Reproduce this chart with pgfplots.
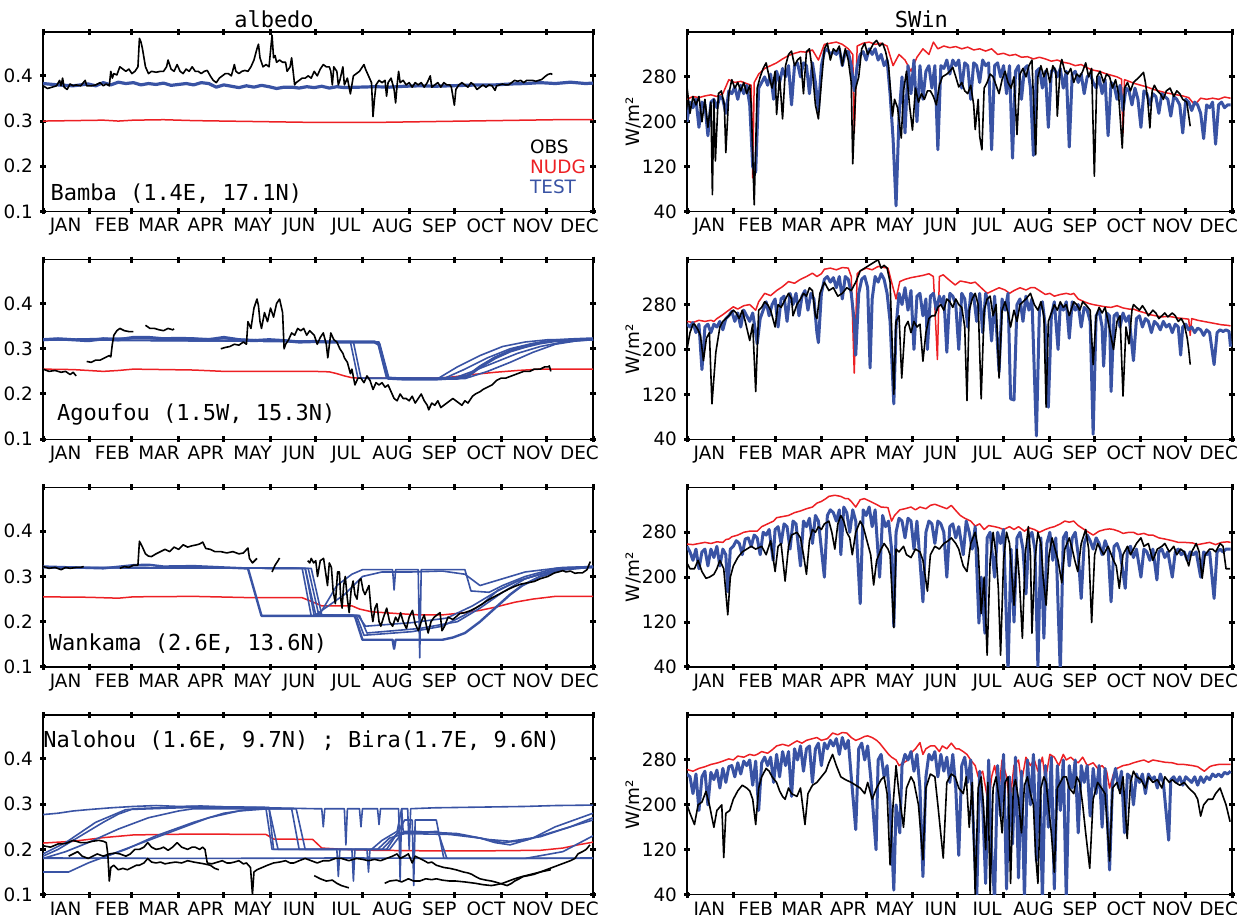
\documentclass[border=0pt]{standalone}
\usepackage{fontspec}
\setmainfont{DejaVu Sans}
\setsansfont{DejaVu Sans}
\setmonofont{DejaVu Sans Mono}
\usepackage{pgfplots}
\pgfplotsset{compat=1.18}
\usepgfplotslibrary{groupplots}
\usetikzlibrary{calc}
\definecolor{nudg}{RGB}{237,32,36}
\definecolor{test}{RGB}{57,83,164}
\pgfplotsset{
  obs/.style={black, line width=0.8pt, line join=round},
  nudgl/.style={nudg, line width=0.75pt, line join=round},
  testthick/.style={test, line width=1.6pt, line join=round},
  testthin/.style={test, line width=0.8pt, line join=round},
  testsw/.style={test, line width=1.5pt, line join=round},
  alb/.style={width=275pt, ymin=0.1, ymax=0.497, ytick={0.1,0.2,0.3,0.4}},
  sw/.style={width=272.5pt, ymin=40, ymax=360, ytick={40,120,200,280},
     ylabel={W/m²}, ylabel style={font=\fontsize{9.2}{10}\selectfont, inner sep=0pt, yshift=-3.2pt}},
}
\newcommand{\stat}{\fontsize{11}{13}\selectfont\ttfamily}
\begin{document}
\begin{tikzpicture}
\begin{groupplot}[group style={group size=2 by 4, horizontal sep=47pt, vertical sep=24.1pt},
  scale only axis, height=89.75pt, xmin=0, xmax=365,
  xtick={0,31,59,90,120,151,181,212,243,273,304,334,365},
  xticklabels={,,,,,,,,,,,,},
  extra x ticks={15,46,77,108,139,170,201,232,263,294,325,356},
  extra x tick labels={JAN,FEB,MAR,APR,MAY,JUN,JUL,AUG,SEP,OCT,NOV,DEC},
  extra x tick style={major tick length=0pt},
  tick align=center, major tick length=3pt, tick style={line width=1.5pt, black},
  axis line style={line width=0.7pt},
  ticklabel style={font=\fontsize{9.2}{10}\selectfont},
  /pgf/number format/assume math mode=true,
  clip mode=individual]
% ---------------- Row 1 left: Bamba albedo
\nextgroupplot[alb]
\addplot[nudgl] coordinates {(0,0.3)(20,0.301)(40,0.302)(50,0.3)(60,0.302)(80,0.303)(100,0.301)(120,0.3)(140,0.299)(160,0.298)(180,0.297)(200,0.297)(220,0.297)(240,0.298)(260,0.299)(280,0.3)(300,0.301)(320,0.302)(340,0.303)(365,0.303)};
\addplot[testthick] coordinates {(0,0.383)(10,0.38)(20,0.378)(30,0.382)(35,0.378)(40,0.385)(45,0.38)(50,0.386)(55,0.383)(60,0.385)(65,0.38)(70,0.383)(75,0.381)(80,0.384)(85,0.379)(90,0.381)(95,0.383)(100,0.38)(105,0.385)(110,0.383)(115,0.375)(120,0.38)(125,0.377)(130,0.374)(135,0.378)(140,0.375)(145,0.379)(150,0.376)(155,0.372)(160,0.375)(165,0.375)(170,0.373)(175,0.376)(180,0.374)(185,0.377)(190,0.373)(195,0.376)(200,0.374)(210,0.375)(220,0.376)(230,0.375)(240,0.377)(250,0.378)(260,0.377)(270,0.378)(280,0.379)(290,0.38)(300,0.38)(310,0.382)(320,0.383)(330,0.385)(340,0.383)(350,0.386)(360,0.383)(365,0.384)};
\addplot[obs] coordinates {(0,0.378)(3,0.372)(6,0.375)(9,0.378)(11,0.39)(12,0.378)(13,0.395)(14,0.375)(16,0.37)(18,0.382)(20,0.378)(22,0.38)(25,0.378)(28,0.39)(29,0.378)(32,0.378)(35,0.38)(38,0.385)(40,0.378)(42,0.382)(44,0.378)(45,0.41)(46,0.395)(47,0.405)(49,0.402)(51,0.42)(53,0.415)(55,0.41)(57,0.415)(59,0.405)(61,0.41)(63,0.42)(64,0.483)(65,0.475)(66,0.46)(67,0.44)(68,0.42)(70,0.405)(72,0.41)(75,0.408)(78,0.41)(80,0.41)(82,0.42)(83,0.435)(85,0.415)(87,0.41)(89,0.425)(91,0.41)(93,0.405)(95,0.415)(97,0.41)(99,0.42)(101,0.41)(103,0.41)(105,0.405)(107,0.41)(109,0.412)(111,0.4)(113,0.39)(115,0.385)(117,0.395)(119,0.4)(121,0.405)(123,0.405)(125,0.4)(127,0.425)(128,0.41)(130,0.405)(132,0.41)(134,0.412)(136,0.41)(138,0.42)(140,0.435)(142,0.46)(143,0.47)(144,0.44)(146,0.42)(148,0.425)(150,0.42)(152,0.49)(153,0.44)(154,0.445)(155,0.43)(157,0.435)(159,0.43)(161,0.43)(162,0.41)(164,0.42)(165,0.44)(166,0.41)(167,0.38)(168,0.385)(170,0.39)(172,0.395)(174,0.395)(176,0.4)(178,0.395)(180,0.41)(182,0.4)(184,0.415)(186,0.425)(188,0.42)(190,0.42)(191,0.41)(192,0.38)(193,0.42)(195,0.41)(196,0.38)(197,0.39)(199,0.42)(200,0.38)(202,0.395)(204,0.36)(206,0.4)(208,0.405)(210,0.41)(211,0.415)(212,0.42)(213,0.425)(214,0.415)(216,0.4)(218,0.385)(219,0.31)(220,0.35)(221,0.38)(223,0.39)(225,0.385)(227,0.39)(228,0.355)(229,0.385)(231,0.395)(233,0.37)(234,0.34)(235,0.38)(236,0.41)(237,0.385)(239,0.39)(241,0.38)(243,0.385)(245,0.375)(247,0.385)(249,0.38)(251,0.385)(253,0.375)(255,0.385)(257,0.4)(258,0.375)(260,0.38)(262,0.385)(264,0.375)(266,0.385)(268,0.38)(270,0.38)(271,0.375)(273,0.335)(274,0.37)(276,0.38)(278,0.385)(280,0.38)(282,0.375)(284,0.385)(286,0.38)(288,0.37)(290,0.375)(292,0.38)(294,0.375)(296,0.38)(298,0.378)(300,0.368)(301,0.378)(303,0.38)(305,0.382)(307,0.38)(309,0.38)(311,0.385)(313,0.39)(315,0.388)(317,0.39)(319,0.385)(321,0.39)(323,0.39)(325,0.39)(327,0.388)(329,0.39)(331,0.392)(333,0.398)(335,0.403)(337,0.405)(338,0.403)};
\node[anchor=base, yshift=2pt, inner sep=0, font=\stat] at (rel axis cs:0.42,1) {albedo};
\node[anchor=base west, inner sep=0, font=\stat] at (rel axis cs:0.013,0.062) {Bamba (1.4E, 17.1N)};
\node[anchor=west, inner sep=0, font=\fontsize{9.2}{10}\selectfont, text=black] at (rel axis cs:0.885,0.36) {OBS};
\node[anchor=west, inner sep=0, font=\fontsize{9.2}{10}\selectfont, text=nudg] at (rel axis cs:0.885,0.25) {NUDG};
\node[anchor=west, inner sep=0, font=\fontsize{9.2}{10}\selectfont, text=test] at (rel axis cs:0.885,0.135) {TEST};
% ---------------- Row 1 right: Bamba SWin
\nextgroupplot[sw]
\addplot[nudgl] coordinates {(0,240)(4,245)(8,243)(12,246)(16,248)(20,245)(24,250)(28,275)(32,270)(36,272)(40,268)(43,265)(44,100)(45,270)(48,285)(52,295)(56,300)(60,305)(64,312)(68,318)(72,322)(76,325)(80,324)(84,328)(88,310)(92,338)(96,340)(100,342)(104,338)(108,330)(111,320)(112,180)(114,335)(118,340)(122,342)(126,338)(130,340)(134,335)(138,300)(142,320)(146,310)(150,290)(154,315)(158,330)(162,320)(165,342)(168,330)(172,335)(176,332)(180,334)(184,330)(188,333)(192,328)(196,330)(200,326)(204,330)(208,320)(212,322)(216,318)(220,320)(224,315)(228,316)(232,312)(236,315)(240,312)(244,308)(248,310)(252,306)(256,304)(260,300)(264,302)(268,296)(272,292)(276,290)(280,286)(284,283)(288,280)(291,276)(292,180)(293,275)(296,272)(300,268)(304,265)(308,262)(312,258)(316,255)(320,252)(324,250)(328,248)(332,246)(336,243)(340,230)(344,242)(348,240)(352,242)(356,240)(360,244)(364,242)};
\addplot[testsw] coordinates {(0,200)(2,235)(4,225)(6,240)(8,190)(10,235)(12,230)(14,175)(16,235)(18,240)(20,225)(22,245)(24,240)(26,215)(28,255)(30,250)(32,262)(34,240)(36,265)(38,250)(40,265)(42,230)(44,120)(46,110)(48,260)(50,270)(52,280)(54,265)(56,285)(58,240)(60,290)(62,270)(64,295)(66,280)(68,300)(70,230)(72,300)(74,305)(76,280)(78,305)(80,300)(82,250)(84,305)(86,270)(88,220)(90,300)(92,325)(94,330)(96,320)(98,325)(100,320)(102,330)(104,300)(106,325)(108,325)(110,300)(112,255)(114,300)(116,320)(118,325)(120,310)(122,330)(124,320)(126,330)(128,310)(130,320)(132,300)(134,310)(136,250)(138,170)(140,50)(142,210)(144,280)(146,180)(148,300)(150,250)(152,310)(154,200)(156,300)(158,240)(160,290)(162,300)(164,260)(166,300)(168,150)(170,300)(172,295)(174,310)(176,285)(178,310)(180,300)(182,310)(184,260)(186,305)(188,300)(190,240)(192,305)(194,300)(196,270)(198,310)(200,300)(202,305)(204,150)(206,300)(208,305)(210,280)(212,300)(214,250)(216,300)(218,135)(220,290)(222,300)(224,240)(226,295)(228,300)(230,260)(232,140)(234,290)(236,295)(238,260)(240,290)(242,190)(244,290)(246,295)(248,280)(250,295)(252,260)(254,290)(256,155)(258,285)(260,290)(262,270)(264,285)(266,250)(268,280)(270,285)(272,270)(274,260)(276,280)(278,250)(280,275)(282,175)(284,270)(286,265)(288,240)(290,265)(292,220)(294,260)(296,255)(298,230)(300,260)(302,240)(304,190)(306,255)(308,250)(310,230)(312,250)(314,245)(316,215)(318,250)(320,245)(322,240)(324,210)(326,245)(328,240)(330,230)(332,180)(334,240)(336,235)(338,220)(340,235)(342,230)(344,215)(346,170)(348,230)(350,225)(352,235)(354,160)(356,230)(358,235)(360,225)(362,230)(364,230)};
\addplot[obs] coordinates {(0,262)(2,215)(4,245)(6,230)(8,245)(10,200)(12,240)(14,190)(16,235)(17,70)(18,240)(19,130)(21,250)(23,255)(25,230)(26,145)(28,250)(30,275)(32,260)(34,270)(36,255)(38,270)(40,250)(42,265)(43,230)(45,52)(47,260)(49,280)(51,295)(53,305)(55,280)(57,260)(59,290)(60,213)(62,280)(64,205)(66,300)(68,320)(70,326)(72,300)(74,310)(76,315)(78,250)(80,325)(82,330)(84,290)(86,230)(88,205)(90,270)(92,330)(94,340)(96,310)(98,330)(100,325)(102,335)(104,300)(106,330)(108,310)(110,270)(111,125)(113,260)(115,280)(117,330)(119,340)(121,320)(123,330)(125,340)(127,345)(129,335)(131,340)(133,325)(135,300)(137.6,210)(139,240)(141,225)(143.5,171)(145,255)(147,290)(149,230)(151,185)(153,260)(155,235)(157,250)(159,240)(161,255)(163,255)(165,245)(167,230)(169,265)(171,280)(174,285)(176,290)(178,297)(180,280)(182,262)(184,270)(186,255)(188,250)(190,265)(192,230)(193,186)(195,240)(196,174)(197.5,150)(199,260)(201,270)(203,285)(205,280)(207,265)(209,250)(211,275)(213,290)(215,270)(217,260)(219,280)(221,177)(223,285)(225,295)(227,280)(229,300)(231,310)(233.5,141)(235,280)(237,300)(239,280)(241,295)(243,270)(245,300)(247,290)(248,210)(250,300)(251,311)(253,290)(255,285)(257,295)(259,270)(261,285)(263,280)(265,290)(267,305)(269,280)(271,295)(272.8,103)(274.5,280)(276.6,290)(279,270)(281,285)(283,280)(285,260)(287,275)(289,250)(291.5,153)(293,260)(295,270)(297,255)(299,270)(301,275)(303,280)(305.7,288)(307,270)(308.5,240)(310,189)(311.5,255)(313,265)(315,255)(317,250)(319,240)(321,255)(323.5,260)(326,245)(328,255)(330,250)(332,240)(334.7,235)(337,192)};
\node[anchor=base, yshift=2pt, inner sep=0, font=\stat] at (rel axis cs:0.43,1) {SWin};
% ---------------- Row 2 left: Agoufou albedo
\nextgroupplot[alb]
\addplot[nudgl] coordinates {(0,0.255)(20,0.254)(40,0.25)(50,0.252)(60,0.255)(80,0.254)(100,0.253)(120,0.25)(150,0.25)(180,0.25)(190,0.249)(195,0.245)(200,0.24)(205,0.236)(210,0.235)(240,0.235)(260,0.235)(270,0.237)(285,0.243)(300,0.248)(315,0.252)(330,0.255)(345,0.255)(365,0.255)};
\addplot[testthin] coordinates {(0,0.32)(60,0.324)(120,0.322)(180,0.316)(204,0.315)(209,0.235)(262,0.234)(275,0.26)(290,0.285)(305,0.305)(320,0.315)(335,0.32)(365,0.32)};
\addplot[testthin] coordinates {(0,0.32)(180,0.316)(206,0.315)(211,0.235)(266,0.234)(280,0.255)(295,0.28)(310,0.3)(325,0.312)(340,0.318)(365,0.32)};
\addplot[testthin] coordinates {(0,0.32)(180,0.316)(222,0.315)(228,0.235)(272,0.234)(285,0.25)(300,0.27)(315,0.29)(330,0.305)(345,0.315)(365,0.32)};
\addplot[testthin] coordinates {(0,0.32)(180,0.316)(223,0.315)(229,0.235)(280,0.234)(295,0.25)(310,0.27)(325,0.292)(340,0.31)(355,0.318)(365,0.32)};
\addplot[testthick] coordinates {(0,0.32)(10,0.322)(20,0.32)(30,0.318)(40,0.322)(50,0.32)(60,0.325)(70,0.325)(80,0.322)(90,0.323)(100,0.322)(110,0.32)(120,0.325)(130,0.32)(140,0.318)(150,0.32)(160,0.318)(170,0.315)(180,0.316)(190,0.315)(200,0.315)(210,0.315)(220,0.315)(223,0.31)(229,0.235)(240,0.233)(250,0.233)(260,0.233)(270,0.235)(275,0.235)(282,0.24)(290,0.26)(300,0.28)(310,0.295)(320,0.305)(330,0.313)(340,0.318)(350,0.32)(365,0.322)};
\addplot[obs] coordinates {(0,0.255)(4,0.25)(8,0.252)(12,0.248)(15,0.25)(18,0.243)(20,0.248)(22,0.24)};
\addplot[obs] coordinates {(29,0.272)(32,0.27)(35,0.275)(38,0.275)(41,0.28)(44,0.285)(45,0.282)(46,0.31)(47,0.33)(49,0.34)(51,0.345)(54,0.34)(57,0.338)(60,0.338)};
\addplot[obs] coordinates {(68,0.352)(71,0.345)(74,0.345)(77,0.342)(80,0.34)(83,0.345)(86,0.342)(87,0.344)};
\addplot[obs] coordinates {(118,0.3)(121,0.303)(124,0.305)(127,0.31)(130,0.308)(133,0.315)(135,0.31)(136,0.36)(138,0.345)(140,0.39)(142,0.41)(143,0.395)(144,0.36)(145,0.345)(147,0.38)(149,0.36)(151,0.39)(153,0.37)(155,0.4)(157,0.41)(158,0.395)(159,0.38)(160,0.3)(161,0.31)(163,0.32)(165,0.335)(167,0.33)(169,0.345)(171,0.34)(173,0.345)(175,0.33)(177,0.34)(180,0.33)(182,0.31)(184,0.325)(186,0.335)(188,0.31)(189,0.28)(191,0.335)(193,0.32)(195,0.315)(197,0.3)(199,0.29)(200,0.28)(202,0.27)(204,0.245)(205,0.255)(207,0.22)(209,0.235)(211,0.235)(213,0.225)(215,0.24)(217,0.23)(219,0.21)(221,0.225)(223,0.22)(225,0.225)(227,0.215)(229,0.22)(231,0.205)(233,0.19)(235,0.185)(237,0.2)(239,0.19)(241,0.19)(243,0.185)(245,0.195)(247,0.18)(249,0.19)(251,0.2)(253,0.185)(255,0.175)(256,0.165)(258,0.18)(260,0.175)(262,0.185)(264,0.17)(266,0.175)(268,0.18)(270,0.185)(272,0.19)(274,0.185)(276,0.18)(278,0.175)(280,0.185)(282,0.18)(285,0.195)(287,0.2)(290,0.205)(292,0.21)(295,0.215)(298,0.22)(301,0.23)(304,0.235)(307,0.235)(311,0.24)(315,0.245)(319,0.25)(323,0.25)(326,0.255)(330,0.255)(333,0.26)(335,0.26)(336,0.262)(337,0.25)};
\node[anchor=base west, inner sep=0, font=\stat] at (rel axis cs:0.025,0.105) {Agoufou (1.5W, 15.3N)};
% ---------------- Row 2 right: Agoufou SWin
\nextgroupplot[sw]
\addplot[nudgl] coordinates {(0,250)(4,248)(8,252)(12,250)(16,252)(18,250)(20,255)(24,262)(28,270)(31,276)(34,272)(38,278)(42,280)(44,275)(46,270)(48,285)(52,300)(56,296)(60,305)(64,312)(68,321)(72,318)(76,325)(80,330)(84,336)(87,330)(90,335)(92,343)(96,345)(100,342)(104,346)(108,345)(110,330)(112,158)(114,335)(116,340)(120,345)(124,342)(128,348)(132,346)(134.6,345)(137,320)(140,290)(142.5,321)(146,325)(150,328)(154,330)(158,332)(162,335)(165,330)(167.7,182)(169,330)(171.6,333)(175,325)(179.6,315)(183,322)(187,320)(190,318)(193,320)(197,310)(201,300)(205,305)(209,310)(213,306)(216,300)(219,305)(223,310)(227,306)(230,310)(233,310)(236,305)(240,298)(243,300)(246,295)(250,298)(254,300)(257,298)(259,300)(262,290)(266,285)(269,282)(272,280)(276,278)(280,276)(284,275)(288,278)(292,274)(296,272)(299,272)(303,268)(307,265)(310,262)(314,260)(318,258)(322,259)(325,258)(329,256)(333,255)(336,254)(337,225)(338,255)(342,252)(346,250)(350,248)(354,246)(358,244)(362,243)(364,242)};
\addplot[testsw] coordinates {(0,245)(2,240)(4,248)(6,230)(8,245)(10,164)(12,240)(14,245)(16,230)(18,245)(20,240)(22,250)(24,235)(26,255)(28,260)(30,268)(32,250)(34,265)(36,240)(38,270)(40,260)(42,250)(44,265)(46,230)(47,210)(49,255)(51,270)(53,285)(55,260)(57,280)(59,290)(61,240)(63,290)(65,295)(67,250)(69,300)(71,280)(73,300)(75,260)(77,295)(79,305)(81,270)(83,300)(85,290)(87,230)(88,212)(90,300)(92,325)(94,330)(96,320)(98,328)(100,310)(102,330)(104,290)(106,330)(108,325)(110,300)(112,250)(113,190)(115,300)(117,325)(119,330)(121,310)(122.6,167)(124,290)(126,330)(128,320)(130,335)(132,325)(134,300)(136,250)(138.5,103)(140,240)(142,300)(144,280)(146,310)(148,270)(150,305)(152,200)(154,295)(156,300)(158,260)(160,290)(161,200)(163,295)(165,300)(167,270)(169,295)(171,280)(172,295)(174,195)(176,300)(178,295)(180,280)(182,200)(184,300)(186,290)(188,240)(190,300)(192,295)(194,250)(196,300)(198,230)(200,300)(202,280)(204,215)(206,295)(209,160)(211,290)(213,270)(215,300)(216.7,112)(219,110)(221,280)(223,290)(225,250)(227,295)(229,270)(231,290)(234,46)(236,270)(238,285)(240,240)(242,97)(244,260)(246,285)(248.5,200)(250,280)(252,270)(254,285)(256,220)(258,285)(260,270)(262,280)(264,240)(266,275)(268,270)(270,250)(272,49)(274,260)(276,270)(278,240)(279,170)(281,265)(283,260)(284,125)(286,260)(288,265)(290,240)(292,265)(294,250)(296,260)(299,180)(301,255)(303,260)(305,240)(307,255)(309,250)(311,230)(313,250)(315,245)(317,235)(319,250)(321,240)(323,245)(325,230)(327,245)(329,240)(330.6,190)(332,240)(334,245)(336,235)(338,240)(340,230)(342,238)(344,235)(346,225)(348,235)(350,230)(353,173)(355,230)(357,235)(359,232)(361,235)(363,232)(364,205)};
\addplot[obs] coordinates {(0,200)(2,230)(4,245)(5,245)(7.4,235)(9,225)(11,180)(13,220)(15,230)(16.7,103)(19.3,195)(22,240)(24,250)(26,255)(28,260)(31,270)(33,265)(35,255)(37,270)(39,250)(42,216)(44,245)(46,125)(48,270)(50,275)(52,285)(54,280)(56,270)(59,240)(61,280)(63,275)(65,285)(68,300)(70,290)(71,260)(73.6,280)(76,290)(78,300)(80,295)(82,310)(84,305)(86,260)(87,255)(89,300)(92,320)(95,305)(98,310)(101,295)(104,300)(107,310)(110,305)(113,320)(116,340)(119,345)(122,350)(125,355)(128,360)(130,345)(132,350)(134,345)(136,320)(137,240)(138.5,120)(140,250)(142,260)(143.8,149)(146,240)(148,250)(150,230)(152,250)(154,240)(156,245)(158,179)(160,230)(162,255)(164,260)(166,260)(168,275)(170,280)(172,270)(174,290)(176,285)(178,275)(180,290)(182,280)(184,275)(186,240)(187.5,109)(189,270)(191,290)(193,300)(195,280)(197,112)(199,270)(201,290)(203,295)(205,260)(207,280)(209,149)(211,270)(213,285)(215,265)(216.7,240)(219,270)(221,250)(223,280)(225,285)(227,290)(230,300)(232.6,280)(235,270)(237,285)(239,260)(240.5,97)(242,250)(244,265)(246,280)(248,270)(250,285)(252,275)(254,280)(256,260)(259,285)(261,280)(263,270)(265,285)(267,280)(270,270)(272,173)(274,260)(276,275)(278,265)(280,275)(282,250)(285.6,200)(288,250)(290,260)(292,117)(294,240)(296,210)(298,270)(299,280)(301,275)(303,270)(305,278)(307,270)(309,260)(312,270)(314,265)(316,255)(318,260)(320,265)(322,258)(325,265)(327,260)(329,250)(331,255)(333,245)(335,220)(336,200)(337,173)};
% ---------------- Row 3 left: Wankama albedo
\nextgroupplot[alb]
\addplot[nudgl] coordinates {(0,0.255)(30,0.254)(50,0.252)(60,0.255)(100,0.256)(140,0.253)(172,0.253)(178,0.245)(185,0.235)(205,0.235)(210,0.228)(218,0.222)(235,0.218)(250,0.215)(265,0.215)(280,0.22)(290,0.225)(300,0.232)(313,0.243)(325,0.25)(340,0.256)(365,0.256)};
\addplot[testthin] coordinates {(0,0.32)(172,0.318)(178,0.213)(183,0.213)(195,0.28)(205,0.305)(212,0.315)(232,0.315)(233,0.27)(234,0.315)(249,0.315)(250,0.12)(251,0.315)(280,0.315)(284,0.268)(296,0.265)(305,0.28)(320,0.3)(340,0.318)(365,0.322)};
\addplot[testthin] coordinates {(0,0.32)(174,0.318)(181,0.215)(208,0.214)(213,0.17)(245,0.178)(265,0.19)(280,0.215)(292,0.24)(302,0.27)(315,0.29)(330,0.305)(350,0.318)(365,0.32)};
\addplot[testthin] coordinates {(0,0.32)(176,0.318)(183,0.215)(209,0.214)(214,0.19)(245,0.198)(268,0.208)(285,0.235)(300,0.265)(315,0.29)(340,0.315)(365,0.32)};
\addplot[testthin] coordinates {(0,0.32)(178,0.318)(185,0.215)(210,0.214)(215,0.175)(250,0.185)(275,0.2)(290,0.23)(305,0.265)(320,0.295)(340,0.315)(365,0.322)};
\addplot[testthin] coordinates {(0,0.32)(174,0.318)(180,0.213)(200,0.26)(212,0.3)(225,0.31)(245,0.31)(265,0.312)(280,0.305)(290,0.28)(300,0.29)(320,0.31)(345,0.32)(365,0.322)};
\addplot[testthin, line width=1.2pt] coordinates {(0,0.322)(20,0.32)(40,0.318)(60,0.325)(70,0.326)(80,0.322)(100,0.323)(120,0.32)(134,0.318)(136,0.318)(145,0.213)(170,0.213)(205,0.213)(207,0.212)(212,0.16)(232,0.16)(233,0.14)(234,0.16)(265,0.16)(272,0.165)(280,0.175)(290,0.2)(300,0.23)(310,0.26)(318,0.28)(330,0.3)(345,0.315)(365,0.322)};
\addplot[obs] coordinates {(0,0.322)(4,0.318)(8,0.32)(12,0.315)(15,0.32)(18,0.318)(22,0.32)(25,0.32)(27,0.322)};
\addplot[obs] coordinates {(51,0.318)(54,0.322)(57,0.32)(60,0.325)(63,0.325)(64,0.378)(66,0.365)(68,0.35)(70,0.345)(72,0.344)(75,0.35)(78,0.355)(81,0.36)(84,0.355)(87,0.365)(90,0.36)(93,0.37)(96,0.365)(99,0.368)(102,0.37)(104,0.372)(106,0.376)(108,0.362)(111,0.36)(114,0.355)(118,0.355)(122,0.352)(126,0.355)(130,0.35)(133,0.352)(136,0.363)(137,0.34)(139,0.33)(142,0.34)};
\addplot[obs] coordinates {(152,0.31)(154,0.325)(156,0.335)(157,0.341)};
\addplot[obs] coordinates {(175.7,0.335)(177,0.33)(178,0.34)(179.6,0.33)(181,0.335)(182.2,0.30)(184,0.335)(186.2,0.34)(187.5,0.31)(188.8,0.28)(190,0.33)(191.4,0.32)(192.5,0.27)(194,0.24)(195.5,0.31)(196.7,0.31)(197.6,0.25)(198.5,0.23)(199.5,0.28)(200.6,0.30)(202,0.25)(203.2,0.22)(204.5,0.27)(205.8,0.29)(207,0.26)(208.4,0.25)(209.7,0.29)(211,0.295)(212.4,0.27)(213.7,0.26)(215,0.27)(216.3,0.28)(217.6,0.23)(218.9,0.20)(220.3,0.23)(221.6,0.24)(223,0.2)(224.2,0.19)(226,0.21)(228.1,0.23)(230,0.2)(232,0.19)(234,0.21)(235.5,0.2)(237.3,0.22)(239,0.2)(241.2,0.185)(243,0.21)(245.2,0.225)(247,0.195)(249.1,0.18)(251,0.2)(253,0.215)(254.5,0.19)(255.6,0.175)(257.5,0.2)(259.6,0.21)(261.5,0.215)(263.5,0.22)(264.8,0.18)(266.5,0.19)(268.8,0.21)(272,0.205)(276.6,0.218)(280,0.22)(284,0.225)(287,0.23)(291,0.238)(294,0.245)(297.6,0.252)(301,0.258)(305,0.265)(309,0.272)(313,0.278)(317,0.283)(320,0.285)(323,0.287)(326,0.289)(330,0.295)(335,0.3)(339.5,0.308)(342,0.31)(345,0.313)(347,0.31)(350,0.312)(353,0.307)(355,0.308)(358,0.308)(361,0.315)(363.2,0.333)};
\node[anchor=base west, inner sep=0, font=\stat] at (rel axis cs:0.01,0.089) {Wankama (2.6E, 13.6N)};
% ---------------- Row 3 right: Wankama SWin
\nextgroupplot[sw]
\addplot[nudgl] coordinates {(0,259)(4,258)(8,260)(12,262)(16,260)(20,263)(24,262)(26,267)(28,268)(30,272)(34,275)(38,280)(42,282)(47,282)(50,290)(54,295)(58,300)(60,306)(64,308)(68,310)(72,315)(76,318)(80,322)(84,325)(87,332)(90,335)(93,340)(95,344)(99,346)(103,344)(106,340)(108,340)(110,335)(113,325)(116,338)(118.7,340)(122,336)(126.6,330)(130,325)(134.6,324)(137,300)(139,310)(142.5,320)(146,322)(150,325)(153,320)(156,325)(160,322)(163,328)(166,330)(170,326)(174,322)(177,328)(179.6,320)(183,310)(186,305)(190,300)(193,291)(196,295)(199,285)(202,292)(206,290)(209,288)(212,285)(216,290)(219,285)(222,290)(226,282)(229,288)(232.6,285)(236,280)(240,285)(243,288)(246,290)(250,295)(253,300)(256,298)(259,300)(262,292)(266,285)(269,280)(272,275)(276,282)(280,285)(283,286)(285.6,285)(289,282)(292,278)(296,280)(299,280)(302,276)(306,278)(309,275)(312,275)(316,270)(320,268)(325,265)(329,262)(333,262)(338.5,261)(342,258)(346,260)(350,262)(354,258)(358,262)(362,263)(364,262)};
\addplot[testsw] coordinates {(0,255)(2,245)(4,230)(6,250)(8,215)(10,245)(12,250)(14,220)(16,250)(18,235)(20,255)(22,220)(24,250)(26,240)(27.3,174)(29,250)(31,255)(33,265)(35,260)(37,240)(39,268)(41,270)(43,255)(45,275)(47,270)(49,240)(51,280)(53,275)(55,285)(57.7,230)(59,285)(61,290)(63,260)(65,295)(67,290)(69,250)(71,300)(73,295)(76,220)(78,300)(80,290)(82,305)(84,260)(86,310)(88,300)(90,250)(92,200)(94,310)(96,320)(98,315)(100,300)(102,320)(103,240)(105,325)(107,315)(109,280)(111,320)(113,300)(116,153)(118,320)(120,310)(122,325)(124,290)(126,320)(129,200)(131,310)(133,290)(135,300)(137,250)(138.5,112)(140,280)(142,305)(144,300)(146,270)(148,305)(150,300)(152,250)(154,300)(156,230)(158,156)(160,280)(162,300)(164,295)(166,260)(168,300)(170,295)(172,280)(174,200)(176,290)(178,295)(180,270)(182,290)(185,240)(187,300)(189,280)(191,250)(193,290)(195.5,118)(197,200)(199.5,100)(201,270)(203,280)(206,200)(208,280)(210,260)(212,285)(215,30)(217,250)(219,120)(221,270)(223,280)(225,250)(227,170)(229,270)(231,280)(233,250)(235,40)(237,270)(239,91)(241,260)(243,280)(245,230)(247,270)(250,30)(252,270)(254,280)(256,220)(258,270)(260,280)(262,240)(264,162)(266,260)(268,275)(270,265)(272,250)(274,270)(276,260)(278,240)(280,265)(282,250)(284,156)(286,255)(288,260)(290,245)(293.5,180)(295,250)(297,255)(299,235)(301,250)(304,200)(306,250)(308,245)(310,230)(312,250)(314.7,195)(316,245)(318,250)(320,235)(322,245)(325,200)(327,245)(329,250)(331,240)(333,245)(335,230)(337,245)(339,240)(341,245)(344,200)(346,245)(348,240)(350,245)(353,162)(355,245)(357,250)(359,245)(361,250)(364,250)};
\addplot[obs] coordinates {(0,225)(2,215)(5,215)(7.4,230)(10,210)(12.7,198)(15,200)(18,205)(20,215)(22,230)(24.6,215)(27.3,133)(29,200)(31,220)(34,235)(37,245)(40,250)(43,255)(46,250)(50,255)(53,240)(56,265)(59,210)(61,255)(63,260)(65.7,193)(68,255)(70,275)(73.6,280)(76,270)(78,240)(80,205)(82,265)(84,285)(86,280)(88,290)(90,285)(92,295)(95,300)(97,280)(99,250)(101,295)(103,310)(105,300)(107,280)(109,270)(110.7,240)(113,280)(116,300)(118,290)(121,260)(123,240)(125,186)(127,230)(130,250)(132,260)(134.6,250)(136,240)(138.5,110)(140,250)(142,245)(145,255)(147,240)(150,235)(153,250)(156,245)(158,230)(161,175)(163,240)(166,255)(169,250)(172,260)(175,265)(177,270)(180,260)(182,250)(185,220)(187.5,210)(190,260)(193,280)(195,250)(197,135)(199,200)(201,61)(203,230)(205,280)(207,240)(208.5,180)(210,61)(212,230)(214,280)(216,260)(219,150)(221,250)(222.5,200)(224.6,91)(226.5,240)(228.6,290)(230,240)(231,100)(233,230)(235,280)(237,260)(238.5,200)(240.5,150)(242.5,240)(244.5,270)(246.5,250)(248.5,230)(251,190)(253,250)(256,270)(258,250)(259.7,230)(261.7,210)(264,260)(267,285)(269,250)(271,119)(273,240)(275,260)(277,250)(279,240)(282,255)(285.6,230)(287.5,220)(289.5,180)(292,240)(295,255)(297,240)(299,250)(301,260)(304,270)(306,255)(309,260)(312,230)(315,250)(318,255)(320,260)(323,245)(326,255)(328,240)(330.6,250)(333,245)(336,220)(338,245)(341,260)(343,245)(345,198)(347,240)(350,250)(352,250)(354,245)(357,260)(359,255)(361,215)(363.7,215)};
% ---------------- Row 4 left: Nalohou albedo
\nextgroupplot[alb]
\addplot[nudgl] coordinates {(0,0.214)(20,0.218)(40,0.226)(60,0.232)(100,0.234)(148,0.233)(153,0.223)(179,0.222)(185,0.203)(200,0.2)(220,0.198)(250,0.197)(300,0.197)(330,0.198)(345,0.203)(355,0.21)(365,0.216)};
\addplot[testthin] coordinates {(0,0.277)(10,0.28)(20,0.285)(30,0.288)(45,0.292)(60,0.295)(75,0.297)(90,0.295)(105,0.296)(120,0.294)(135,0.293)(150,0.292)(165,0.291)(180,0.29)(185,0.29)(186,0.25)(187,0.29)(200,0.29)(201,0.21)(202,0.29)(210,0.29)(211,0.25)(212,0.29)(222,0.29)(223,0.255)(224,0.29)(236,0.29)(237,0.13)(238,0.29)(242,0.29)(243,0.2)(244,0.29)(260,0.292)(280,0.293)(300,0.294)(320,0.295)(340,0.297)(365,0.298)};
\addplot[testthin] coordinates {(0,0.185)(10,0.2)(20,0.22)(30,0.24)(40,0.26)(50,0.278)(60,0.29)(100,0.295)(150,0.293)(153,0.2)(195,0.2)(196,0.14)(197,0.2)(218,0.2)(225,0.22)(235,0.24)(238,0.29)(239,0.24)(260,0.238)(275,0.233)(290,0.225)(300,0.215)(310,0.21)(325,0.225)(340,0.25)(365,0.28)};
\addplot[testthin] coordinates {(0,0.18)(15,0.195)(30,0.215)(50,0.245)(70,0.27)(90,0.285)(100,0.29)(165,0.29)(170,0.2)(205,0.2)(206,0.13)(207,0.2)(222,0.2)(230,0.225)(240,0.235)(270,0.233)(290,0.225)(305,0.215)(320,0.22)(340,0.24)(365,0.265)};
\addplot[testthin] coordinates {(0,0.15)(17,0.15)(30,0.17)(50,0.195)(70,0.22)(90,0.245)(110,0.27)(130,0.285)(150,0.29)(156,0.2)(225,0.2)(235,0.235)(245,0.24)(275,0.235)(295,0.222)(310,0.218)(330,0.228)(350,0.25)(365,0.27)};
\addplot[testthin] coordinates {(0,0.18)(38,0.18)(55,0.2)(75,0.23)(100,0.26)(120,0.28)(140,0.29)(168,0.29)(174,0.2)(215,0.2)(216,0.15)(217,0.2)(228,0.2)(236,0.24)(240,0.265)(245,0.265)(246,0.12)(247,0.265)(261,0.265)(266,0.18)(320,0.18)(345,0.195)(365,0.23)};
\addplot[testthin] coordinates {(0,0.181)(100,0.18)(200,0.181)(300,0.18)(365,0.181)};
\addplot[testthin] coordinates {(0,0.19)(15,0.215)(35,0.26)(55,0.288)(100,0.293)(148,0.29)(152,0.2)(230,0.2)(238,0.235)(262,0.24)(268,0.18)(365,0.18)};
\addplot[obs] coordinates {(0,0.208)(5,0.205)(10,0.212)(15,0.213)(20,0.22)(22,0.218)(25,0.215)(29,0.215)(33,0.218)(37,0.22)(40,0.218)(42,0.215)(43,0.19)(44,0.13)(45,0.16)(47,0.165)(50,0.155)(53,0.158)(56,0.155)(59,0.16)(62,0.165)(64,0.165)(67,0.17)(69.5,0.18)(72,0.172)(75,0.17)(78,0.172)(81,0.168)(84,0.17)(88,0.172)(92,0.17)(96,0.175)(100,0.172)(103.6,0.17)(107,0.168)(111,0.165)(114,0.158)(116.7,0.155)};
\addplot[obs] coordinates {(17,0.185)(20,0.19)(23,0.195)(26,0.185)(30,0.18)(33,0.185)(36,0.19)(40,0.185)(44,0.19)(48,0.192)(51,0.19)(55,0.185)(58,0.19)(61,0.2)(64,0.2)(67,0.205)(69.5,0.215)(72,0.205)(75,0.2)(78,0.202)(80,0.205)(83,0.198)(86,0.205)(89,0.215)(92,0.205)(96,0.2)(99,0.205)(101,0.205)(104,0.2)(106,0.205)(107.5,0.2)(109,0.17)(112,0.168)(116,0.172)(119,0.175)(122,0.17)(124.5,0.17)(127,0.172)(130,0.175)(133,0.168)(135,0.17)(137.7,0.16)(139,0.1)(140,0.15)(142,0.155)(145.5,0.16)(149,0.165)(153,0.17)(157,0.172)(161,0.175)(164,0.17)(166.5,0.17)(170,0.175)(174,0.18)(178,0.175)(182,0.17)(186,0.175)(190,0.175)(194,0.18)(198,0.18)(203,0.175)(208,0.18)(212,0.178)(216,0.175)(220,0.178)(224,0.175)(228,0.18)(232,0.185)(235,0.19)(237,0.18)(240,0.185)(242.5,0.19)(245,0.17)(247,0.185)(250,0.18)(253,0.175)(255.6,0.17)(258,0.172)(261,0.165)(264,0.162)(266,0.16)(270,0.158)(274,0.155)(277,0.152)(279,0.15)(282,0.148)(284.5,0.145)(287,0.14)(290,0.135)(294,0.132)(297.6,0.13)(300,0.128)(303,0.125)(306,0.122)(308,0.12)(311,0.125)(313,0.13)(316,0.135)(318.6,0.14)(322,0.142)(326,0.145)(330,0.15)(334,0.155)(338,0.16)(342,0.165)(346,0.17)(350,0.175)(353,0.18)(355,0.19)(358,0.195)(360.5,0.2)(363,0.21)};
\addplot[obs] coordinates {(180,0.142)(184,0.135)(188,0.13)(192,0.132)(195,0.125)(198,0.12)(200,0.118)(203,0.115)};
\addplot[obs] coordinates {(226.8,0.125)(230,0.13)(234.7,0.132)(238,0.128)(242.5,0.135)(246,0.13)(250,0.13)(254,0.135)(258,0.133)(261,0.135)(265,0.132)(270,0.13)(274,0.13)(280,0.128)(287,0.125)(292,0.122)(297.6,0.12)(301,0.122)(305,0.125)(309,0.13)(313,0.135)(318,0.14)(324,0.145)(330,0.15)(337,0.155)};
\node[anchor=base west, inner sep=0, font=\stat] at (rel axis cs:0.0,0.822) {Nalohou (1.6E, 9.7N) ; Bira(1.7E, 9.6N)};
% ---------------- Row 4 right: Nalohou SWin
\nextgroupplot[sw]
\addplot[nudgl] coordinates {(0,263)(4,260)(8,265)(12,268)(16,272)(20.7,275)(24,278)(28,282)(31,280)(34,287)(38,285)(42,290)(45,288)(47,290)(50,295)(54,292)(57,298)(60,305)(64,308)(68,305)(71,310)(73.6,314)(77,310)(80,315)(84,318)(87,320)(90,315)(94,318)(97.5,328)(101,325)(104,329)(107,328)(110,320)(113,315)(116,318)(119,322)(121,323)(124,320)(127,315)(129,310)(132,300)(135,290)(137,285)(140,280)(142,270)(145,275)(148,280)(151,295)(153,300)(156,311)(158,290)(160,300)(163,305)(166,305)(169,295)(171,305)(174,300)(177,310)(180,300)(182,300)(185,295)(187.5,290)(190,280)(193,270)(195,250)(198,260)(200,230)(202,200)(204,250)(206,270)(209,230)(211,280)(214,250)(216,200)(219,270)(222,280)(224,240)(227,285)(230,270)(232.6,280)(235,260)(238,285)(240,245)(243,290)(246,285)(249,270)(252,290)(254,280)(257,285)(259,280)(262,275)(265,285)(268,270)(272,275)(275,265)(278,270)(281,260)(283,230)(285.6,255)(288,265)(292,270)(296,272)(299,275)(303,278)(306,280)(309,276)(312,280)(316,278)(320,276)(325,275)(329,272)(333,272)(338.5,270)(342,268)(346.5,260)(350,268)(352,270)(356,272)(360,272)(364,272)};
\addplot[testsw] coordinates {(0,255)(2,250)(4,220)(6,255)(8,190)(10,250)(12,260)(14,200)(16,258)(18,245)(20,262)(22,230)(24,265)(26,240)(28,268)(30,270)(32,250)(34,275)(36,255)(38,278)(40,270)(42,280)(44,235)(46,278)(48,190)(50,275)(52,285)(54,270)(56,285)(58,240)(60,290)(62,250)(64,295)(66,270)(68,295)(70,215)(72,300)(74,280)(76,305)(78,260)(80,300)(82,305)(84,240)(86,300)(88,310)(90,270)(92,310)(94,300)(96,315)(98,305)(100,318)(102,290)(104,320)(106,300)(108,315)(110,250)(113,156)(115,300)(117,310)(119,280)(121,305)(123,250)(126.6,120)(128,280)(130,290)(132,250)(134,270)(136,200)(138.5,48)(140,200)(142.5,150)(144,270)(146,290)(148,280)(150,295)(152,260)(154,290)(156,230)(158,72)(160,250)(162,290)(164,280)(166,295)(168,250)(170,290)(172,260)(174,285)(176,240)(178,290)(180,230)(182,110)(184,270)(186,285)(188,240)(190,280)(192,150)(194,30)(196,260)(198,200)(200,60)(202,280)(204,120)(206,30)(208,270)(210,180)(212,290)(214,50)(216,250)(218,130)(220,285)(222,70)(224,260)(226,30)(228,280)(230,200)(232,290)(234,100)(236,280)(238,30)(240,270)(242,160)(244,285)(246,50)(248,270)(250,190)(252,280)(254,30)(256,270)(258,230)(260,280)(262,150)(264,270)(266,240)(268,270)(270,180)(272,265)(274,220)(276,270)(278,160)(280,265)(283,84)(285,240)(287,265)(289,230)(291,260)(293,150)(295,255)(297,250)(299,200)(301,255)(303,240)(305,255)(307,220)(309,255)(311,245)(313,250)(315,230)(317,255)(319,240)(322.6,137)(324,245)(326,250)(328,240)(330,250)(332,235)(334,250)(336,245)(338,240)(340,250)(342,235)(344,250)(346,240)(348,250)(350,245)(352,255)(354,250)(356,255)(358,250)(360,258)(362,255)(364,260)};
\addplot[obs] coordinates {(0,200)(2,185)(5,165)(7.4,200)(10,205)(12.7,224)(15,200)(18,160)(20,190)(23.3,200)(24.6,106)(26,185)(28.6,190)(31,210)(34,225)(37,235)(40,230)(42,225)(44,210)(46,165)(48,230)(50,250)(53,265)(55,260)(57,250)(60,240)(62,225)(64,215)(65.7,210)(68,230)(70,220)(73.6,215)(76,230)(79,165)(81,220)(84,235)(87,240)(90,250)(93,260)(95,275)(97.5,290)(100,270)(103,250)(106,245)(110,240)(113,235)(116,230)(119,220)(121,240)(124,210)(127,230)(130,245)(132,250)(134,220)(136,93)(138,200)(140,270)(142,220)(145,160)(147,230)(150,250)(152,240)(155,200)(158,102)(160,230)(163,255)(166,250)(168,200)(171.6,105)(174,240)(177,255)(179.6,250)(182,230)(185,220)(187,250)(189,160)(191,240)(193,40)(195,230)(197,250)(198.5,200)(200,120)(201.5,240)(203,40)(205,230)(207,250)(209,210)(211,150)(213,240)(215,250)(216.7,60)(218.5,230)(220,245)(222,210)(224,150)(226,235)(228,250)(230,220)(232,200)(233.5,110)(235,60)(237,230)(239,250)(240.5,240)(242,200)(244,150)(246,80)(248,230)(250,240)(252,250)(254,250)(256,230)(259,220)(261,250)(263,240)(265,200)(267,150)(269.7,87)(272,210)(275,240)(277.6,230)(280,220)(283,100)(285,230)(288,240)(290,220)(292,250)(294.8,140)(297,240)(299,260)(301,250)(304,245)(307,230)(309,250)(312,240)(315,245)(318,230)(320,250)(323,240)(325,245)(327,240)(330,235)(333,240)(336,230)(338,225)(340,220)(342,210)(344,180)(346,200)(349,210)(352,210)(354,220)(357,230)(359,215)(361,200)(363.7,170)};
\end{groupplot}
\pgfresetboundingbox
\path[use as bounding box] ([shift={(-21.5pt,16pt)}]group c1r1.north west) rectangle ++(619pt,-457.5pt);
\end{tikzpicture}
\end{document}
